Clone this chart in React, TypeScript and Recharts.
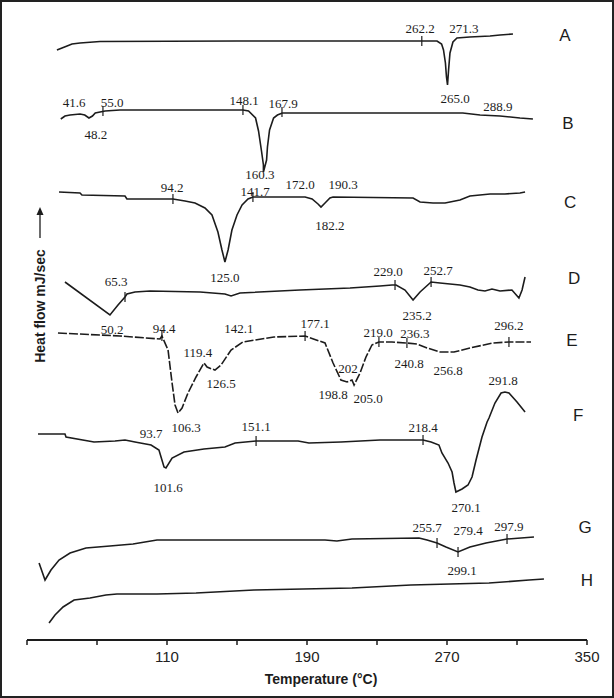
import React from 'react';
import { ComposedChart, Line, Scatter, XAxis, YAxis } from 'recharts';

type Pt = [number, number];

// temperature (°C) vs heat flow (arbitrary, offset per sample)
const curveA: Pt[] = [
  [47.1, 590], [50, 592], [52.9, 594], [55.7, 596], [60.3, 597], [71.7, 598.5], [150, 599],
  [264.3, 599], [266.9, 596], [268, 590], [269.1, 577], [269.7, 563], [270.3, 555],
  [270.9, 570], [271.7, 587], [273.4, 598], [275.7, 602], [283, 603], [294.6, 604],
  [300.3, 605], [307.7, 606],
];
const curveB: Pt[] = [
  [49.3, 521], [51.7, 524], [54.6, 525], [60.3, 526], [63, 525], [65.4, 522], [67.4, 524],
  [69, 527], [74.6, 529], [83.1, 530], [153.4, 530], [156.6, 529], [160.6, 522], [162.3, 509],
  [164, 489], [165.1, 475], [165.1, 468], [166.9, 480], [167.4, 493], [168.6, 510],
  [170.9, 522], [173.1, 525], [175.9, 527], [279, 527], [288.9, 525], [300.3, 524],
  [311.7, 522], [319.1, 521],
];
const curveC: Pt[] = [
  [48.3, 448], [60.3, 447], [61.4, 445], [86, 444], [87.1, 441], [113.4, 441], [120.3, 439],
  [126, 437], [131.7, 432], [135.7, 425], [139.1, 408], [141.4, 390], [143.1, 378],
  [144.9, 390], [147.1, 410], [150, 425], [152.9, 435], [156.3, 441], [159.1, 443],
  [188.9, 443], [192.9, 441], [196.3, 436], [198, 433], [200.3, 437], [203.1, 442],
  [204.9, 443], [250.6, 442], [254.6, 438], [262, 437], [268.9, 437], [277.4, 440],
  [283.1, 444], [294.6, 446], [303.1, 446], [311.7, 447], [314.6, 448],
];
const curveD: Pt[] = [
  [51.7, 358], [77.4, 325], [82, 335], [86, 343], [87.1, 346], [91.7, 348], [100.3, 349],
  [128.9, 348], [143.1, 346], [146.6, 344], [151.7, 347], [186, 350], [214.6, 352],
  [231.7, 354], [238.6, 355], [240.9, 355], [246, 350], [250.6, 340], [254.6, 348],
  [260.9, 358], [266, 357], [277.4, 355], [283.1, 353], [287.7, 350], [291.7, 349],
  [295.7, 351], [300.3, 349], [307.1, 350], [311.1, 342], [312.9, 350], [314.6, 363],
];
const curveE: Pt[] = [
  [47.7, 307], [83.1, 304], [106, 301], [107.1, 304], [110.6, 290], [112.9, 257],
  [114.6, 235], [116.3, 227], [118.6, 232], [122, 247], [126.6, 263], [131.1, 277],
  [132.9, 273], [135.7, 271], [137.4, 270], [140.9, 275], [146.6, 290], [153.4, 298],
  [171.1, 303], [188.9, 304], [200.3, 297], [204.9, 277], [209.4, 260], [212.9, 258],
  [215.7, 260], [216.9, 255], [220.3, 267], [223.7, 283], [227.1, 295], [231.1, 298],
  [238.6, 298], [247.1, 297], [252.9, 296], [258.6, 292], [266, 288], [274, 288],
  [283.1, 292], [296.3, 297], [305.4, 298], [318, 298],
];
const curveF: Pt[] = [
  [36.3, 206], [51.7, 206], [52.3, 203], [68.3, 198], [80.3, 199], [86, 200], [88.9, 199],
  [91.7, 198], [100.9, 195], [105.4, 190], [108.3, 173], [109.4, 172], [112.9, 182],
  [119.7, 188], [131.1, 191], [143.1, 193], [148.9, 197], [160.9, 199], [184.9, 199],
  [191.1, 197], [209.4, 198], [231.7, 200], [256.3, 200], [260.9, 198], [265.4, 195],
  [267.1, 187], [270.6, 177], [272.9, 168], [274, 157], [275.1, 148], [278.6, 151],
  [282, 155], [284.3, 163], [286.6, 180], [290, 203], [292.9, 218], [294, 222],
  [297.4, 237], [300.9, 247], [303.1, 248], [305.4, 247], [310, 238], [314.6, 228],
];
const curveG: Pt[] = [
  [36.9, 77], [40.3, 60], [43.7, 70], [48.3, 80], [54.6, 87], [63.7, 92], [77.4, 94],
  [90.6, 96], [97.4, 98], [104.3, 100], [200.3, 100], [207.1, 99], [215.7, 101], [254, 102],
  [258.6, 100], [264.3, 97], [269.4, 93], [276.3, 88], [283.1, 93], [292.3, 97],
  [304.3, 101], [319.7, 103],
];
const curveH: Pt[] = [
  [42.6, 17], [46, 25], [50.6, 33], [56.9, 40], [66, 42], [75.1, 45], [81.4, 46],
  [104.3, 46], [126.6, 47], [159.7, 50], [215.7, 52], [249.4, 55], [294, 57], [316.9, 60],
  [325.4, 61],
];

const peakLabels: [number, number, string][] = [
  [254.6, 612, '262.2'], [279.7, 612, '271.3'], [274.6, 542, '265.0'],
  [56.9, 538, '41.6'], [78.6, 538, '55.0'], [154, 540, '148.1'], [176.3, 537, '167.9'],
  [69.4, 506, '48.2'], [163.1, 466, '160.3'], [299.1, 534, '288.9'],
  [112.9, 453, '94.2'], [160.3, 449, '141.7'], [186, 456, '172.0'], [210.6, 456, '190.3'],
  [203.1, 415, '182.2'], [143.1, 363, '125.0'],
  [80.9, 359, '65.3'], [236.3, 369, '229.0'], [264.9, 370, '252.7'], [252.9, 325, '235.2'],
  [78.6, 311, '50.2'],
  [108.3, 312, '94.4'], [151.1, 312, '142.1'], [194.6, 317, '177.1'], [230.6, 308, '219.0'],
  [251.7, 307, '236.3'], [305.4, 315, '296.2'], [127.7, 288, '119.4'], [140.9, 257, '126.5'],
  [213.4, 272, '202'], [248.3, 277, '240.8'], [270.6, 270, '256.8'], [204.9, 246, '198.8'],
  [224.9, 242, '205.0'], [120.9, 213, '106.3'],
  [100.9, 207, '93.7'], [160.9, 214, '151.1'], [256.3, 213, '218.4'], [110.6, 153, '101.6'],
  [280.9, 133, '270.1'], [302, 260, '291.8'],
  [258.6, 113, '255.7'], [282, 110, '279.4'], [305.4, 114, '297.9'], [278.6, 70, '299.1'],
];

// small onset/offset ticks drawn across the traces
const onsetTicks: Pt[] = [
  [255.6, 599],
  [73.4, 529], [153.4, 530], [175.7, 528],
  [113.4, 441], [159.1, 443],
  [86, 343], [240.3, 355], [260.9, 358],
  [107.1, 304], [188.9, 304], [231.1, 298], [247.1, 297], [305.4, 298],
  [160.9, 199], [256.3, 200],
  [264.3, 97], [276.3, 88], [304.3, 101],
];

const sampleNames = ['A', 'B', 'C', 'D', 'E', 'F', 'G', 'H'];
const sampleLabelT = [337.4, 339.1, 340.3, 342.6, 341.4, 344.9, 348.9, 350];
const sampleLabelH = [605, 517, 438, 362, 300, 225, 113, 60];

const xTicks = [30, 70, 110, 150, 190, 230, 270, 310, 350];
const xTickLabels = [110, 190, 270, 350];

const toRows = (pts: Pt[]) => pts.map(([t, h]) => ({ t, h }));

const curves = [
  { key: 'A', pts: curveA },
  { key: 'B', pts: curveB },
  { key: 'C', pts: curveC },
  { key: 'D', pts: curveD },
  { key: 'E', pts: curveE, dash: '9 2' },
  { key: 'F', pts: curveF },
  { key: 'G', pts: curveG },
  { key: 'H', pts: curveH },
];

const INK = '#1c1c1c';

const labelRows = peakLabels.map(([t, h, text]) => ({ t, h, text }));
const nameRows = sampleNames.map((text, i) => ({ t: sampleLabelT[i], h: sampleLabelH[i], text }));

const PeakText = (p: any) => (
  <text
    x={p.cx}
    y={p.cy}
    textAnchor="middle"
    dominantBaseline="central"
    fontFamily="'Liberation Serif', serif"
    fontSize={13}
    fill={INK}
  >
    {p.payload.text}
  </text>
);

const NameText = (p: any) => (
  <text
    x={p.cx}
    y={p.cy}
    textAnchor="middle"
    dominantBaseline="central"
    fontFamily="'Liberation Sans', Arial, sans-serif"
    fontSize={17}
    fill={INK}
  >
    {p.payload.text}
  </text>
);

const TickMark = (p: any) => (
  <line x1={p.cx} y1={p.cy - 5} x2={p.cx} y2={p.cy + 5} stroke={INK} strokeWidth={1.2} />
);

export default function App() {
  return (
    <div style={{ position: 'absolute', left: 0, top: 0, width: 614, height: 698, background: '#fff' }}>
      <ComposedChart
        width={614}
        height={698}
        margin={{ top: 0, right: 27, bottom: 28, left: 27 }}
        style={{ position: 'absolute', left: 0, top: 0 }}
      >
        <XAxis
          type="number"
          dataKey="t"
          domain={[30, 350]}
          ticks={xTicks}
          height={30}
          tickFormatter={(v: number) => (xTickLabels.includes(v) ? String(v) : '')}
          axisLine={{ stroke: INK, strokeWidth: 2 }}
          tickLine={{ stroke: INK, strokeWidth: 1.5 }}
          tickSize={5}
          tickMargin={6}
          tick={{ fill: '#222', fontSize: 15, fontFamily: "'Liberation Sans', Arial, sans-serif" }}
        />
        <YAxis type="number" dataKey="h" domain={[0, 640]} hide />
        {curves.map((c) => (
          <Line
            key={c.key}
            data={toRows(c.pts)}
            dataKey="h"
            type="linear"
            dot={false}
            stroke={INK}
            strokeWidth={1.6}
            strokeDasharray={c.dash}
            isAnimationActive={false}
          />
        ))}
        <Scatter data={toRows(onsetTicks)} dataKey="h" shape={TickMark} isAnimationActive={false} />
        <Scatter data={labelRows} dataKey="h" shape={PeakText} isAnimationActive={false} />
        <Scatter data={nameRows} dataKey="h" shape={NameText} isAnimationActive={false} />
      </ComposedChart>
      <svg width={614} height={698} style={{ position: 'absolute', left: 0, top: 0, pointerEvents: 'none' }}>
        <text
          transform="translate(45,306) rotate(-90)"
          textAnchor="middle"
          fontFamily="'Liberation Sans', Arial, sans-serif"
          fontWeight="bold"
          fontSize={14}
          fill={INK}
        >
          Heat flow mJ/sec
        </text>
        <line x1={40} y1={238} x2={40} y2={211} stroke={INK} strokeWidth={1.3} />
        <path d="M36.5,215 L40,207 L43.5,215 Z" fill={INK} />
        <text
          x={321}
          y={684}
          textAnchor="middle"
          fontFamily="'Liberation Sans', Arial, sans-serif"
          fontWeight="bold"
          fontSize={14}
          fill={INK}
        >
          Temperature (°C)
        </text>
        <rect x={1} y={1} width={612} height={696} fill="none" stroke="#222" strokeWidth={2} />
      </svg>
    </div>
  );
}
